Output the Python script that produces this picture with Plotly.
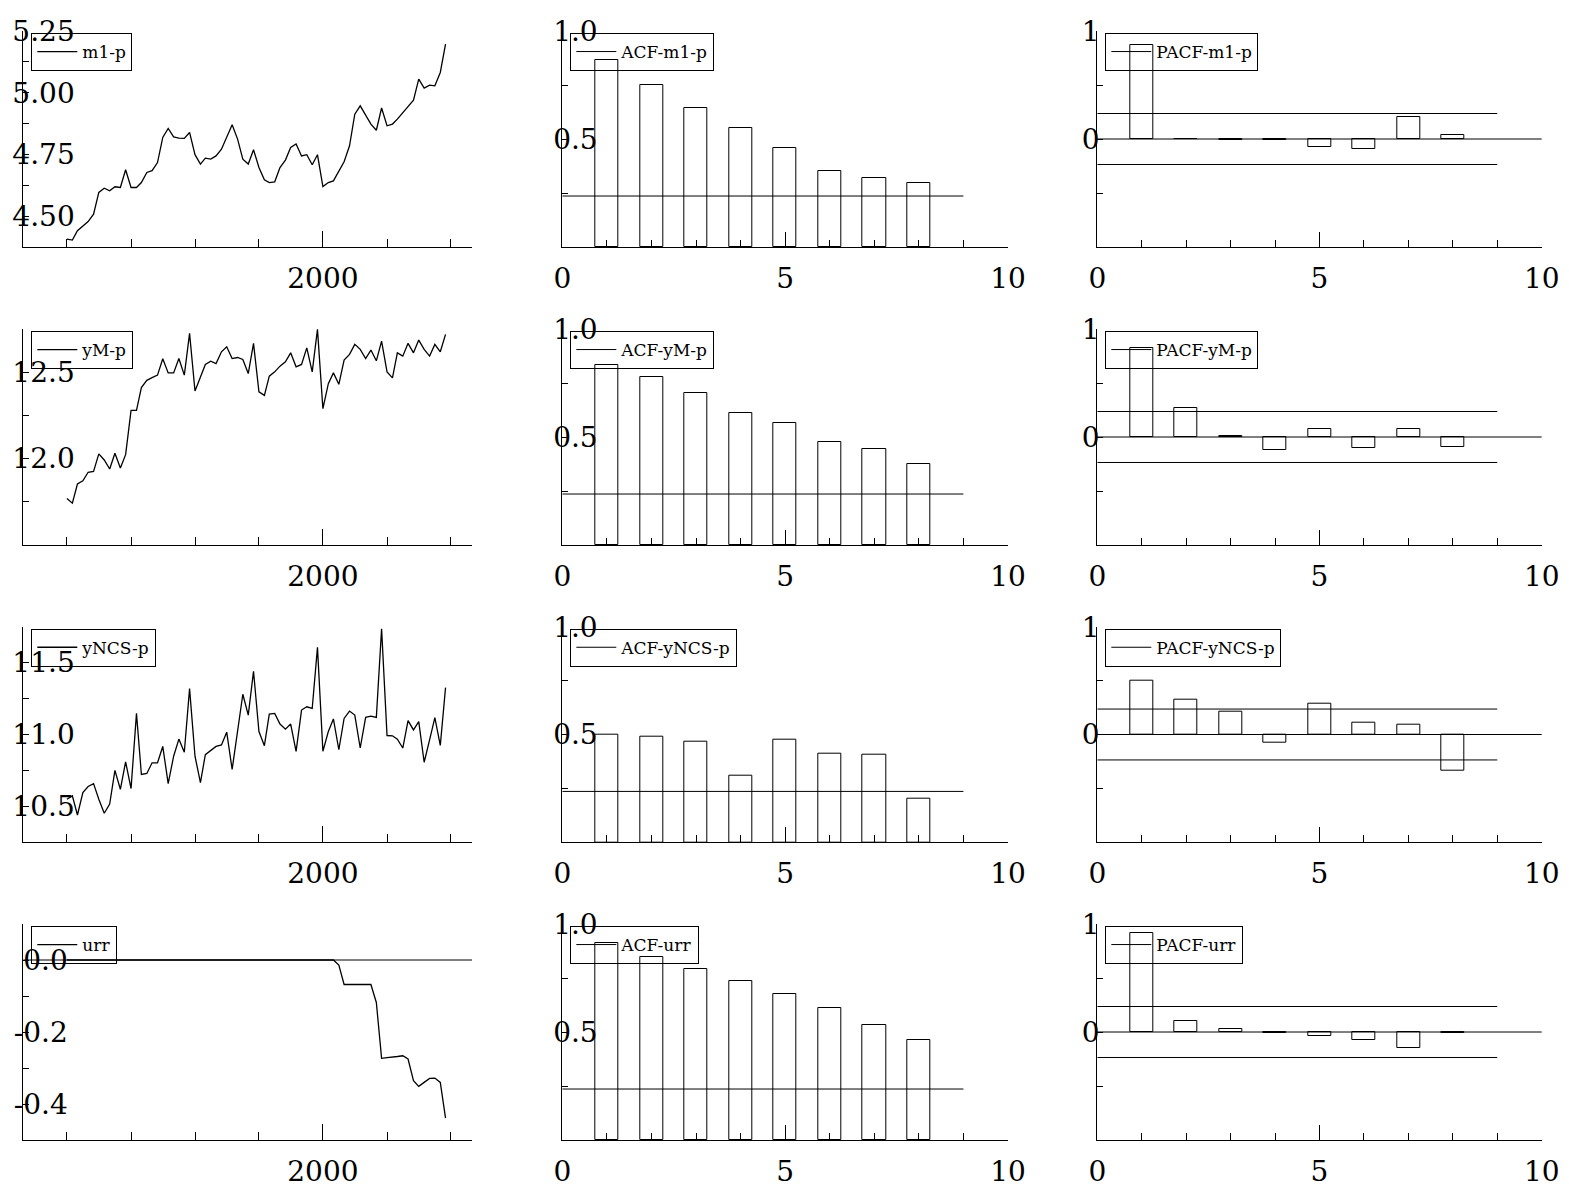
import plotly.graph_objects as go
import pandas as pd

# ---------------- data ----------------
months = pd.date_range("1996-01-01", periods=72, freq="MS")

m1_p = [4.407, 4.403, 4.441, 4.461, 4.478, 4.508, 4.596, 4.613, 4.603, 4.619, 4.616, 4.688,
        4.616, 4.616, 4.636, 4.677, 4.684, 4.717, 4.819, 4.855, 4.821, 4.816, 4.815, 4.839,
        4.749, 4.711, 4.735, 4.731, 4.744, 4.771, 4.819, 4.870, 4.812, 4.731, 4.711, 4.769,
        4.697, 4.647, 4.636, 4.639, 4.697, 4.727, 4.778, 4.792, 4.744, 4.749, 4.708, 4.749,
        4.620, 4.636, 4.643, 4.684, 4.720, 4.785, 4.913, 4.947, 4.907, 4.873, 4.848, 4.938,
        4.866, 4.873, 4.893, 4.920, 4.947, 4.970, 5.055, 5.019, 5.031, 5.028, 5.082, 5.197]

yM_p = [11.769, 11.742, 11.853, 11.872, 11.921, 11.926, 12.027, 11.992, 11.940, 12.031, 11.946, 12.023,
        12.279, 12.279, 12.411, 12.453, 12.469, 12.483, 12.578, 12.496, 12.496, 12.579, 12.483, 12.725,
        12.391, 12.473, 12.545, 12.564, 12.550, 12.618, 12.647, 12.579, 12.585, 12.574, 12.492, 12.667,
        12.386, 12.366, 12.477, 12.502, 12.535, 12.560, 12.612, 12.531, 12.545, 12.641, 12.502, 12.748,
        12.289, 12.434, 12.496, 12.430, 12.570, 12.603, 12.661, 12.632, 12.579, 12.628, 12.566, 12.680,
        12.502, 12.467, 12.612, 12.593, 12.667, 12.612, 12.686, 12.632, 12.593, 12.661, 12.618, 12.719]

yNCS_p = [10.550, 10.573, 10.440, 10.596, 10.638, 10.658, 10.550, 10.452, 10.516, 10.750, 10.619, 10.810,
          10.624, 11.147, 10.722, 10.729, 10.803, 10.803, 10.917, 10.658, 10.849, 10.968, 10.876, 11.319,
          10.849, 10.665, 10.860, 10.890, 10.917, 10.927, 11.016, 10.757, 11.021, 11.280, 11.135, 11.440,
          11.021, 10.922, 11.142, 11.147, 11.073, 11.037, 11.073, 10.883, 11.170, 11.193, 11.181, 11.606,
          10.883, 11.021, 11.108, 10.894, 11.112, 11.163, 11.135, 10.906, 11.119, 11.128, 11.119, 11.736,
          10.993, 10.991, 10.968, 10.906, 11.096, 11.032, 11.089, 10.807, 10.963, 11.117, 10.924, 11.326]

urr = [0.0] * 50 + [0.0, -0.014, -0.068, -0.068, -0.068, -0.068, -0.068, -0.068, -0.118, -0.273,
                    -0.271, -0.270, -0.268, -0.266, -0.275, -0.335, -0.351, -0.340, -0.329, -0.328,
                    -0.340, -0.439]

lags = [1, 2, 3, 4, 5, 6, 7, 8]
acf_m1_p = [0.868, 0.749, 0.645, 0.553, 0.457, 0.352, 0.321, 0.298]
acf_yM_p = [0.833, 0.779, 0.705, 0.610, 0.566, 0.478, 0.443, 0.374]
acf_yNCS_p = [0.497, 0.492, 0.466, 0.308, 0.477, 0.410, 0.407, 0.204]
acf_urr = [0.911, 0.846, 0.790, 0.736, 0.674, 0.610, 0.531, 0.462]

pacf_m1_p = [0.866, 0.003, -0.008, -0.012, -0.071, -0.095, 0.200, 0.034]
pacf_yM_p = [0.826, 0.273, 0.010, -0.123, 0.077, -0.100, 0.071, -0.089]
pacf_yNCS_p = [0.497, 0.325, 0.209, -0.075, 0.290, 0.109, 0.090, -0.335]
pacf_urr = [0.915, 0.100, 0.025, -0.010, -0.040, -0.075, -0.144, -0.005]

conf_band = 0.236          # approx. 2/sqrt(T)
band_lags = [0, 9]

series = [
    ("m1-p", m1_p, acf_m1_p, pacf_m1_p),
    ("yM-p", yM_p, acf_yM_p, pacf_yM_p),
    ("yNCS-p", yNCS_p, acf_yNCS_p, pacf_yNCS_p),
    ("urr", urr, acf_urr, pacf_urr),
]

# y-axis set-up of the time-series panels
ts_ranges = [[4.375, 5.25], [11.5, 12.75], [10.25, 11.75], [-0.5, 0.1]]
ts_tickvals = [[4.5, 4.75, 5.0, 5.25], [12.0, 12.5], [10.5, 11.0, 11.5], [-0.4, -0.2, 0.0]]
ts_ticktext = [["4.50", "4.75", "5.00", "5.25"], ["12.0", "12.5"], ["10.5", "11.0", "11.5"],
               ["-0.4", "-0.2", "0.0"]]
ts_minor = [[4.375, 4.625, 4.875, 5.125], [11.75, 12.25, 12.75], [10.75, 11.25, 11.75], [-0.3, -0.1, 0.1]]
ts_label_shift = [-58, -58, -58, -51]

year_ticks = ["%d-01-01" % y for y in range(1996, 2003)]

# ---------------- layout geometry (page pixels) ----------------
PAGE_W, PAGE_H = 1569, 1191
OFF = 8                                  # default body margin of the html page
W, H = PAGE_W - OFF, PAGE_H - OFF
col_px = [(23.3, 472.0), (562.3, 1008.0), (1097.3, 1541.7)]
row_px = [(31.0, 247.0), (329.0, 545.0), (626.7, 842.3), (924.0, 1140.0)]


def fx(p):
    return (p - OFF) / W


def fy(p):
    return 1 - (p - OFF) / H


FONT = "DejaVu Serif"
TICKFONT = dict(family=FONT, size=28, color="black")
LINE = "black"

fig = go.Figure()
layout = dict(
    width=W, height=H, margin=dict(l=0, r=0, t=0, b=0, autoexpand=False),
    paper_bgcolor="white", plot_bgcolor="white",
    font=dict(family=FONT, color="black"),
)


def zero_line(xa, ya):
    fig.add_shape(type="line", xref=xa + " domain", yref=ya, x0=0, x1=1, y0=0, y1=0,
                  line=dict(color=LINE, width=1), layer="above")


n = 0
for r, (name, ts, acf, pacf) in enumerate(series):
    for c in range(3):
        n += 1
        ax = "" if n == 1 else str(n)
        xa, ya = "x" + ax, "y" + ax
        leg = "legend" + ("" if n == 1 else str(n))
        x0, x1 = col_px[c]
        y0, y1 = row_px[r]
        xdom = [fx(x0), fx(x1)]
        ydom = [fy(y1), fy(y0)]

        common_x = dict(domain=xdom, anchor=ya, showline=True, linecolor=LINE, linewidth=1,
                        showgrid=False, zeroline=False, ticks="inside", tickcolor=LINE,
                        tickfont=TICKFONT, ticklabelstandoff=6, automargin=False)
        common_y = dict(domain=ydom, anchor=xa, showline=True, linecolor=LINE, linewidth=1,
                        showgrid=False, zeroline=False, ticks="inside", tickcolor=LINE,
                        ticklen=6, tickfont=TICKFONT, ticklabelposition="outside",
                        automargin=False)

        if c == 0:
            fig.add_trace(go.Scatter(x=months, y=ts, mode="lines", name=name,
                                     line=dict(color=LINE, width=1.3),
                                     xaxis=xa, yaxis=ya, legend=leg))
            if name == "urr":
                zero_line(xa, ya)
            layout["xaxis" + ax] = dict(common_x, type="date",
                                        range=["1995-04-27", "2002-05-01"],
                                        tickmode="array", tickvals=["2000-01-01"],
                                        ticktext=["2000"], ticklen=16,
                                        minor=dict(tickmode="array", tickvals=year_ticks,
                                                   ticks="inside", ticklen=8, tickcolor=LINE,
                                                   showgrid=False))
            layout["yaxis" + ax] = dict(common_y, range=ts_ranges[r], tickmode="array",
                                        tickvals=ts_tickvals[r], ticktext=ts_ticktext[r],
                                        ticklabelstandoff=ts_label_shift[r],
                                        minor=dict(tickmode="array", tickvals=ts_minor[r],
                                                   ticks="inside", ticklen=6, tickcolor=LINE,
                                                   showgrid=False))
        else:
            vals = acf if c == 1 else pacf
            label = ("ACF-" if c == 1 else "PACF-") + name
            fig.add_trace(go.Bar(x=lags, y=vals, width=0.52, showlegend=False,
                                 marker=dict(color="white", line=dict(color=LINE, width=1)),
                                 xaxis=xa, yaxis=ya))
            fig.add_trace(go.Scatter(x=band_lags, y=[conf_band, conf_band], mode="lines",
                                     name=label, line=dict(color=LINE, width=1),
                                     xaxis=xa, yaxis=ya, legend=leg))
            if c == 2:
                fig.add_trace(go.Scatter(x=band_lags, y=[-conf_band, -conf_band], mode="lines",
                                         showlegend=False, line=dict(color=LINE, width=1),
                                         xaxis=xa, yaxis=ya))
                zero_line(xa, ya)
            layout["xaxis" + ax] = dict(common_x, range=[0, 10], tickmode="array",
                                        tickvals=[0, 5, 10], ticktext=["0", "5", "10"],
                                        ticklen=15,
                                        minor=dict(tickmode="array",
                                                   tickvals=[1, 2, 3, 4, 6, 7, 8, 9],
                                                   ticks="inside", ticklen=7, tickcolor=LINE,
                                                   showgrid=False))
            if c == 1:
                layout["yaxis" + ax] = dict(common_y, range=[0, 1], tickmode="array",
                                            tickvals=[0.5, 1.0], ticktext=["0.5", "1.0"],
                                            ticklabelstandoff=-42,
                                            minor=dict(tickmode="array", tickvals=[0.25, 0.75],
                                                       ticks="inside", ticklen=6,
                                                       tickcolor=LINE, showgrid=False))
            else:
                layout["yaxis" + ax] = dict(common_y, range=[-1, 1], tickmode="array",
                                            tickvals=[0, 1], ticktext=["0", "1"],
                                            ticklabelstandoff=-9,
                                            minor=dict(tickmode="array", tickvals=[-0.5, 0.5],
                                                       ticks="inside", ticklen=6,
                                                       tickcolor=LINE, showgrid=False))

        layout[leg] = dict(x=fx(x0 + 8), y=fy(y0 + 2), xanchor="left", yanchor="top",
                           bgcolor="rgba(0,0,0,0)", bordercolor=LINE, borderwidth=1,
                           font=dict(family=FONT, size=17, color="black"),
                           itemwidth=40, tracegroupgap=0)

fig.update_layout(**layout)
fig.update_layout(barmode="overlay", bargap=0)
fig.write_html("out.html")
